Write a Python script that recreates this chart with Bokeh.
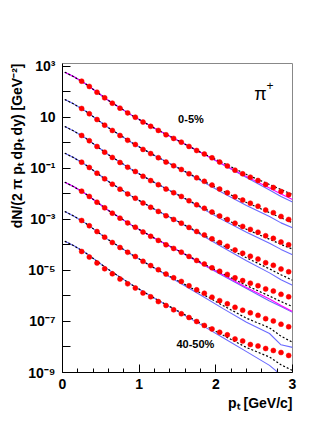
import math
from bokeh.plotting import figure
from bokeh.models import FixedTicker, Label, Title
from bokeh.embed import file_html
from bokeh.resources import INLINE

# ---------------- data ----------------
pt_data = [0.25, 0.35, 0.45, 0.55, 0.65, 0.75, 0.85, 0.95, 1.05, 1.15, 1.25, 1.35, 1.45, 1.55,
           1.65, 1.75, 1.85, 1.95, 2.05, 2.15, 2.25, 2.35, 2.45, 2.55, 2.65, 2.75, 2.85, 2.95]

data_c1 = [265, 165, 98, 59, 36.4, 23.2, 15.1, 10.25, 6.6, 4.5, 3.12, 2.1, 1.51, 1.08, 0.733,
           0.508, 0.37, 0.263, 0.179, 0.126, 0.0858, 0.062, 0.0456, 0.0339, 0.0236, 0.018,
           0.0125, 0.00935]
data_c2 = [22.5, 14.0, 8.33, 5.01, 3.10, 1.97, 1.275, 0.871, 0.56, 0.384, 0.265, 0.178, 0.128,
           0.0915, 0.0622, 0.0432, 0.0314, 0.0223, 0.01557, 0.0112, 0.00783, 0.00578, 0.00435,
           0.00332, 0.00236, 0.00185, 0.00132, 0.001004]
data_c3 = [1.97, 1.225, 0.729, 0.438, 0.271, 0.172, 0.112, 0.0762, 0.0492, 0.0335, 0.0232,
           0.01558, 0.0112, 0.00801, 0.00544, 0.00377, 0.00275, 0.00195, 0.001384, 0.001007,
           0.000715, 0.000537, 0.000409, 0.000318, 0.00023, 0.000182, 0.000131, 0.000102]
data_c4 = [0.177, 0.11, 0.0655, 0.0393, 0.0243, 0.01547, 0.01005, 0.00684, 0.00442, 0.003014,
           0.00208, 0.001399, 0.001005, 0.00072, 0.000489, 0.000339, 0.000248, 0.0001754,
           0.0001243, 9.0e-5, 6.37e-5, 4.77e-5, 3.63e-5, 2.8e-5, 2.02e-5, 1.6e-5, 1.149e-5, 8.92e-6]
data_c5 = [0.0129, 0.00801, 0.00477, 0.00287, 0.00177, 0.001128, 0.000733, 0.000499, 0.000322,
           0.000219, 0.0001515, 0.000102, 7.32e-5, 5.25e-5, 3.56e-5, 2.47e-5, 1.80e-5, 1.278e-5,
           9.35e-6, 7.04e-6, 5.17e-6, 4.02e-6, 3.18e-6, 2.54e-6, 1.90e-6, 1.554e-6, 1.163e-6, 9.31e-7]
data_c6 = [9.13e-4, 5.68e-4, 3.37e-4, 2.03e-4, 1.254e-4, 7.98e-5, 5.18e-5, 3.53e-5, 2.28e-5,
           1.556e-5, 1.074e-5, 7.21e-6, 5.18e-6, 3.72e-6, 2.52e-6, 1.745e-6, 1.28e-6, 9.0e-7,
           6.58e-7, 4.94e-7, 3.6e-7, 2.77e-7, 2.18e-7, 1.739e-7, 1.291e-7, 1.052e-7, 7.82e-8, 6.22e-8]
data_c7 = [5.57e-5, 3.37e-5, 1.976e-5, 1.17e-5, 7.43e-6, 4.63e-6, 3.0e-6, 2.06e-6, 1.311e-6,
           9.31e-7, 6.05e-7, 4.24e-7, 2.87e-7, 2.01e-7, 1.436e-7, 1.0e-7, 7.0e-8, 5.13e-8, 3.79e-8,
           3.01e-8, 2.06e-8, 1.722e-8, 1.251e-8, 1.097e-8, 8.72e-9, 7.29e-9, 6.07e-9, 4.65e-9]

pt_model = [0.03, 0.15, 0.3, 0.6, 0.9, 1.2, 1.5, 1.8, 2.1, 2.4, 2.7, 2.85, 3.0]

black_c1 = [599, 394, 210, 46.4, 12.36, 3.77, 1.275, 0.436, 0.163, 0.0581, 0.0236, 0.01495, 0.00956]
blue_c1 = [599, 394, 210, 46.4, 12.36, 3.77, 1.275, 0.428, 0.137, 0.0443, 0.01438, 0.008, 0.00487]
magenta_c1 = [599, 394, 210, 46.4, 12.36, 3.77, 1.275, 0.434, 0.1427, 0.0484, 0.01719, 0.00991, 0.00609]
black_c2 = [50.9, 33.5, 17.9, 3.94, 1.052, 0.321, 0.1084, 0.037, 0.01271, 0.00465, 0.00186, 0.00116, 0.000746]
blue_c2 = [50.9, 33.5, 17.9, 3.94, 1.052, 0.321, 0.1084, 0.0339, 0.0106, 0.00355, 0.0013, 0.000737, 0.000474]
black_c3 = [4.45, 2.92, 1.564, 0.344, 0.0918, 0.028, 0.00946, 0.003235, 0.001107, 0.000412, 0.000168, 1.058e-4, 6.89e-5]
blue_c3 = [4.45, 2.92, 1.564, 0.344, 0.0918, 0.028, 0.00946, 0.00296, 0.000925, 0.000314, 0.0001166, 6.73e-5, 4.18e-5]
black_c4 = [0.399, 0.263, 0.1404, 0.0309, 0.00824, 0.002515, 0.000851, 0.000283, 9.28e-5, 3.14e-5, 1.16e-5, 6.78e-6, 4.17e-6]
blue_c4 = [0.399, 0.263, 0.1404, 0.0309, 0.00824, 0.002515, 0.000851, 2.58e-4, 7.75e-5, 2.39e-5, 8.07e-6, 4.34e-6, 2.66e-6]
black_c5 = [0.0291, 0.0191, 0.01023, 0.002248, 0.000601, 0.0001832, 6.2e-5, 2.115e-5, 7.27e-6, 2.58e-6, 9.95e-7, 6.05e-7, 3.85e-7]
blue_c5 = [0.0291, 0.0191, 0.01023, 0.002248, 0.000601, 0.0001832, 6.2e-5, 1.933e-5, 6.04e-6, 1.967e-6, 6.37e-7, 3.85e-7, 2.28e-7]
magenta_c5 = [0.0291, 0.0191, 0.01023, 0.002248, 0.000601, 0.0001832, 6.2e-5, 2.02e-5, 6.63e-6, 2.16e-6, 7.63e-7, 4.22e-7, 2.45e-7]
black_c6 = [2.06e-3, 1.35e-3, 7.22e-4, 1.592e-4, 4.25e-5, 1.245e-5, 4.05e-6, 1.322e-6, 4.12e-7, 1.343e-7, 5.65e-8, 2.65e-8, 1.537e-8]
blue_c6 = [2.06e-3, 1.35e-3, 7.22e-4, 1.592e-4, 4.25e-5, 1.245e-5, 3.7e-6, 1.1e-6, 3.12e-7, 9.38e-8, 3.38e-8, 1.22e-8, 9.64e-9]
black_c7 = [1.407e-4, 9.28e-5, 4.94e-5, 1.084e-5, 2.79e-6, 8.15e-7, 2.65e-7, 8.65e-8, 2.83e-8, 9.54e-9, 4.04e-9, 2.01e-9, 1.2e-9]
blue_c7 = [1.407e-4, 9.28e-5, 4.94e-5, 1.084e-5, 2.79e-6, 8.15e-7, 2.49e-7, 7.72e-8, 2.25e-8, 6.59e-9, 1.9e-9, 8e-10, 5e-10]

data_series = [data_c1, data_c2, data_c3, data_c4, data_c5, data_c6, data_c7]
black_series = [black_c1, black_c2, black_c3, black_c4, black_c5, black_c6, black_c7]
blue_series = [blue_c1, blue_c2, blue_c3, blue_c4, blue_c5, blue_c6, blue_c7]
magenta_series = [magenta_c1, magenta_c5]

xtick_vals = [0, 1, 2, 3]
xtick_labels = ["0", "1", "2", "3"]
xminor_vals = [0.2, 0.4, 0.6, 0.8, 1.2, 1.4, 1.6, 1.8, 2.2, 2.4, 2.6, 2.8]
ytick_vals = [1e3, 1e2, 1e1, 1e0, 1e-1, 1e-2, 1e-3, 1e-4, 1e-5, 1e-6, 1e-7, 1e-8, 1e-9]
ytick_labels = ["10\u00b3", "", "10", "", "10\u207b\u00b9", "", "10\u207b\u00b3", "",
                "10\u207b\u2075", "", "10\u207b\u2077", "", "10\u207b\u2079"]

y_title = "dN/(2 \u03c0 p\u209c dp\u209c dy) [GeV\u207b\u00b2]"
x_title = "p\u209c [GeV/c]"

# ---------------- figure ----------------
FONT = "Liberation Sans"
BLUE = "#6a6aff"
MAGENTA = "#ff00ff"

p = figure(frame_width=230, frame_height=309, x_range=(0, 3), y_range=(1e-9, 1.31e3),
           y_axis_type="log", output_backend="svg", toolbar_location=None,
           min_border_left=62, min_border_right=40, min_border_top=63, min_border_bottom=58)
p.background_fill_color = "white"
p.border_fill_color = "white"
p.outline_line_color = "#888888"
p.grid.visible = False

for ax in (p.xaxis, p.yaxis):
    ax.axis_line_color = "black"
    ax.major_tick_in = 8
    ax.major_tick_out = 0
    ax.minor_tick_in = 4
    ax.minor_tick_out = 0
    ax.major_label_text_font = FONT
    ax.major_label_text_font_style = "bold"
    ax.major_label_text_font_size = "14px"
    ax.major_label_text_color = "black"

p.xaxis.ticker = FixedTicker(ticks=xtick_vals, minor_ticks=xminor_vals)
p.xaxis.major_label_overrides = {v: s for v, s in zip(xtick_vals, xtick_labels)}
p.xaxis.major_label_standoff = 6
p.yaxis.ticker = FixedTicker(ticks=ytick_vals, minor_ticks=[])
p.yaxis.major_label_overrides = {v: s for v, s in zip(ytick_vals, ytick_labels)}
p.yaxis.major_label_standoff = 7

p.add_layout(Title(text=y_title, align="right", text_font=FONT, text_font_size="14px",
                   text_font_style="bold", text_color="black", standoff=2), "left")
p.add_layout(Title(text=x_title, align="right", text_font=FONT, text_font_size="14px",
                   text_font_style="bold", text_color="black", standoff=2), "below")

for blu in blue_series:
    p.line(pt_model, blu, line_color=BLUE, line_width=1.1)
for mag in magenta_series:
    p.line(pt_model, mag, line_color=MAGENTA, line_width=1.1)
for blk in black_series:
    p.line(pt_model, blk, line_color="black", line_width=1.2, line_dash="2 2")
for d in data_series:
    p.scatter(pt_data, d, size=5, fill_color="#ff0000", line_color="#ff0000",
              line_width=0.5, marker="circle")

# ---------------- texts inside the frame ----------------
def lab(x, y, text, size, style="bold"):
    p.add_layout(Label(x=x, y=y, text=text, text_font=FONT, text_font_size=size,
                       text_font_style=style, text_align="left", text_baseline="alphabetic",
                       text_color="black"))

lab(1.508, 9.1, "0-5%", "11px")
lab(1.486, 1.37e-8, "40-50%", "11px")
lab(2.50, 87, "\u03c0", "18px", style="normal")
lab(2.66, 180, "+", "12px", style="normal")

open("out.html", "w").write(file_html(p, INLINE))
